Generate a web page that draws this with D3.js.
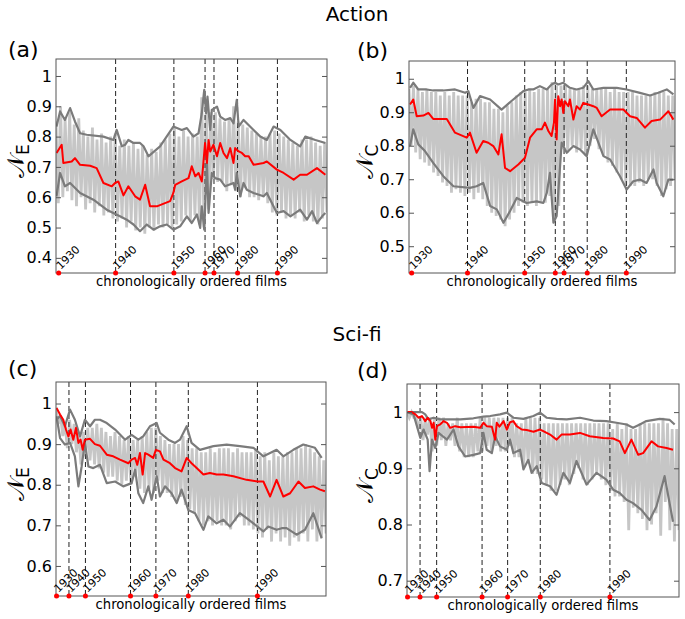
<!DOCTYPE html>
<html>
<head>
<meta charset="utf-8">
<script src="https://cdnjs.cloudflare.com/ajax/libs/d3/7.8.5/d3.min.js"></script>
<style>
body { margin: 0; background: #fff; }
svg { display: block; }
text { font-family: "DejaVu Sans", sans-serif; }
</style>
</head>
<body>
<script>
// year labels along the chronologically ordered films
var yearLabels = ["1930", "1940", "1950", "1960", "1970", "1980", "1990"];
// film index (0..100) where each decade starts
var actionYears = [1, 22, 43.5, 55, 58.3, 67, 81.7];
var scifiYears = [0.2, 4.8, 10.9, 27.6, 37, 49, 74.6];

// --- (a) Action, N_E : [film index, value]
var aMean = [[0.2,.746],[2.1,.773],[2.7,.713],[5.8,.718],[7,.729],[8.9,.707],[12.6,.704],[15,.696],[17.5,.647],[20.6,.636],[21.8,.647],[23,.652],[24.9,.606],[26.7,.636],[29.2,.603],[31,.592],[32.9,.641],[34.7,.57],[37.2,.57],[42.1,.587],[43.3,.614],[44,.641],[46.4,.652],[48.9,.663],[50.1,.702],[51.4,.669],[52.6,.68],[53.8,.652],[55,.779],[55.7,.713],[56.3,.789],[56.9,.751],[58.1,.773],[59.4,.735],[60.6,.779],[61.8,.746],[63.1,.729],[64.3,.762],[65.5,.713],[66.1,.762],[67.4,.751],[68.6,.746],[69.8,.735],[71.1,.735],[72.9,.707],[76.6,.713],[77.8,.718],[81.5,.691],[84,.68],[87.7,.658],[90.1,.674],[92.6,.674],[96.3,.696],[99.4,.674]];
var aUpper = [[0.2,.833],[1.5,.883],[3.3,.855],[5.2,.894],[7,.85],[8.9,.811],[11.3,.806],[17.5,.8],[21.2,.789],[22.4,.822],[24.3,.768],[25.5,.773],[26.7,.789],[28.6,.779],[31,.779],[32.3,.768],[34.1,.735],[38.4,.768],[43.3,.833],[46.4,.822],[48.3,.828],[50.7,.8],[52.6,.811],[53.8,.877],[54.7,.954],[55.4,.877],[55.9,.932],[56.9,.822],[57.5,.888],[59.4,.899],[60.6,.866],[62.4,.855],[64.3,.861],[65.5,.844],[66.7,.921],[67.4,.833],[69.2,.855],[70.4,.844],[72.9,.822],[75.4,.8],[77.8,.789],[80.3,.833],[82.8,.822],[86.5,.789],[90.1,.768],[92,.8],[95.7,.789],[99.4,.779]];
var aLower = [[0.2,.603],[1.5,.68],[3.3,.636],[5.2,.647],[8.9,.614],[13.8,.592],[18.7,.559],[23.6,.537],[26.1,.526],[28.6,.51],[31,.488],[33.5,.51],[36,.493],[38.4,.504],[40.9,.51],[43.3,.493],[45.8,.504],[48.3,.537],[50.1,.515],[52,.543],[53.2,.499],[53.8,.57],[54.7,.493],[55.7,.713],[56.3,.548],[57.5,.68],[58.7,.663],[60.6,.658],[62.4,.636],[65.5,.647],[66.1,.625],[66.7,.68],[68,.603],[69.2,.647],[70.4,.625],[72.9,.614],[76.6,.603],[77.8,.614],[81.5,.548],[84,.554],[86.5,.537],[90.1,.559],[92.6,.526],[94.5,.554],[96.3,.515],[98.2,.537],[99.4,.548]];
var aFilms = [.85,.58,.90,.60,.86,.62,.88,.59,.84,.57,.86,.60,.82,.56,.80,.58,.83,.55,.79,.57,.81,.54,.78,.55,.80,.53,.81,.52,.77,.53,.79,.50,.77,.52,.78,.49,.76,.50,.77,.48,.74,.50,.76,.49,.75,.51,.78,.50,.79,.51,.81,.50,.83,.51,.80,.52,.82,.54,.80,.52,.81,.54,.80,.51,.93,.50,.90,.56,.88,.66,.88,.65,.86,.65,.85,.62,.86,.64,.90,.62,.85,.60,.84,.63,.83,.60,.82,.60,.81,.59,.80,.60,.80,.58,.81,.55,.82,.54,.81,.55,.80,.53,.79,.54,.78,.53,.77,.55,.79,.52,.79,.54,.80,.52,.78,.51,.77,.53,.78,.55];

// --- (b) Action, N_C
var bMean = [[0.4,.923],[1.6,.938],[2.9,.888],[5.4,.89],[7.3,.898],[9.1,.88],[14.2,.88],[17.3,.839],[21.7,.824],[22.9,.839],[25.4,.779],[27.9,.814],[29.8,.809],[31.7,.799],[33.6,.774],[34.8,.834],[36.1,.734],[38,.724],[41.1,.744],[43.6,.764],[45.5,.824],[48,.849],[49.9,.849],[51.1,.869],[52.4,.844],[53.6,.829],[54.5,.869],[54.9,.938],[55.5,.819],[56.1,.948],[56.8,.918],[57.4,.938],[58,.898],[58.6,.933],[59.9,.918],[60.5,.938],[61.8,.878],[63,.918],[64.3,.908],[65.5,.928],[67.4,.923],[69.3,.918],[70.6,.913],[72.4,.888],[75.6,.908],[80.6,.908],[83.1,.888],[85.6,.883],[88.7,.854],[91.2,.874],[94.4,.878],[97.5,.903],[99.4,.878]];
var bUpper = [[0.4,.973],[1.6,.988],[3.5,.968],[6.6,.968],[9.1,.965],[12.9,.965],[17.3,.968],[21.1,.958],[22.3,.963],[24.2,.913],[26.7,.948],[30.5,.938],[34.8,.908],[39.2,.938],[43,.963],[44.9,.968],[46.7,.968],[49.2,.978],[51.8,.968],[53.6,.983],[54.9,.988],[56.1,.983],[58,.988],[60.5,.973],[63,.968],[65.5,.973],[67.4,.993],[69.3,.968],[73.1,.973],[78.1,.973],[81.8,.968],[86.8,.958],[90.6,.95],[93.7,.958],[96.9,.968],[99.4,.953]];
var bLower = [[0.4,.799],[1.6,.849],[3.5,.804],[6,.784],[9.1,.749],[12.9,.709],[16.7,.679],[22.9,.674],[25.4,.679],[27.9,.689],[30.5,.62],[33,.61],[35.5,.57],[38,.605],[40.5,.644],[44.2,.629],[48,.634],[50.5,.629],[51.8,.659],[53,.719],[54.3,.57],[55.5,.59],[57.4,.809],[59.3,.779],[61.8,.799],[64.3,.789],[66.8,.769],[69.3,.849],[71.2,.809],[73.1,.769],[75.6,.759],[79.3,.709],[81.8,.669],[84.3,.694],[86.8,.699],[89.3,.689],[91.9,.729],[93.1,.689],[95.6,.649],[97.5,.699],[99.4,.699]];
var bFilms = [.97,.80,.98,.78,.97,.76,.96,.75,.97,.74,.96,.72,.96,.71,.95,.69,.96,.68,.95,.66,.96,.67,.95,.66,.95,.65,.95,.66,.93,.64,.94,.66,.94,.64,.93,.62,.93,.60,.91,.59,.91,.58,.90,.56,.92,.58,.93,.60,.95,.62,.96,.63,.96,.62,.97,.63,.96,.62,.97,.63,.97,.63,.97,.65,.99,.57,.98,.62,.98,.79,.98,.78,.97,.80,.97,.78,.97,.79,.98,.77,.98,.80,.97,.82,.97,.79,.97,.77,.97,.75,.96,.74,.97,.72,.96,.70,.96,.68,.96,.68,.96,.68,.95,.69,.95,.68,.95,.70,.95,.70,.96,.68,.96,.65,.96,.67,.95,.68,.95,.70];

// --- (c) Sci-fi, N_E
var cMean = [[0.2,.989],[1.5,.973],[2.7,.96],[3.7,.936],[4.6,.919],[5.4,.936],[6.4,.911],[7.4,.94],[8.3,.903],[9.1,.911],[9.9,.886],[10.7,.911],[12.6,.913],[14.4,.9],[16.3,.896],[18.8,.874],[21.2,.87],[23.7,.862],[26.8,.853],[28,.862],[29.3,.866],[30.1,.849],[31.1,.878],[32.1,.825],[33,.878],[34.2,.874],[36,.866],[37,.886],[38.5,.882],[39.8,.862],[42.2,.853],[44.1,.841],[46.5,.833],[48.4,.866],[50.2,.853],[52.1,.841],[54.6,.825],[57,.829],[59.5,.825],[62,.825],[65.7,.821],[70.6,.812],[74.9,.808],[76.8,.808],[79.3,.771],[81.7,.812],[84.2,.771],[86.7,.779],[89.8,.808],[92.2,.792],[95.3,.796],[97.8,.788],[99.6,.784]];
var cUpper = [[0.2,.96],[1.5,.969],[3.3,.944],[5.2,.985],[7,.96],[8.9,.919],[10.7,.96],[12.6,.944],[14.4,.96],[16.3,.96],[18.8,.952],[21.9,.936],[25.6,.911],[28,.923],[30.5,.911],[32.3,.919],[34.8,.944],[37.3,.952],[38.5,.928],[41.6,.911],[44.1,.903],[45.9,.911],[48.4,.944],[50.2,.903],[53.3,.886],[58.3,.895],[63.2,.899],[68.1,.895],[73.1,.891],[76.8,.87],[79.3,.878],[81.7,.886],[84.2,.87],[87.9,.886],[91.6,.899],[95.9,.891],[98.4,.866]];
var cLower = [[0.2,.969],[1.5,.915],[3.3,.899],[5.2,.903],[7,.87],[8.3,.796],[9.5,.845],[10.7,.903],[12,.845],[13.8,.841],[16.3,.849],[18.8,.804],[21.9,.808],[24.9,.796],[28,.804],[29.3,.837],[30.5,.779],[32.3,.755],[34.2,.796],[35.4,.763],[37.3,.821],[38.5,.771],[40.4,.796],[42.8,.779],[44.7,.755],[46.5,.788],[49,.738],[51.5,.73],[54.6,.689],[56.4,.722],[59.5,.705],[62,.714],[64.4,.697],[68.1,.73],[70.6,.718],[73.1,.705],[76.8,.685],[78.6,.697],[81.7,.689],[83.6,.693],[85.4,.693],[89.1,.677],[92.2,.689],[95.3,.73],[98.4,.668]];
var cFilms = [.99,.95,.97,.92,.95,.89,.96,.90,.95,.88,.93,.85,.93,.87,.94,.86,.94,.85,.95,.84,.94,.83,.93,.82,.92,.82,.93,.81,.92,.80,.91,.81,.92,.80,.91,.82,.91,.79,.92,.78,.93,.79,.94,.78,.94,.81,.92,.78,.91,.78,.90,.77,.90,.76,.90,.77,.92,.75,.91,.74,.89,.73,.89,.71,.88,.70,.88,.71,.89,.70,.88,.71,.89,.70,.89,.70,.89,.69,.88,.71,.89,.72,.88,.70,.88,.70,.88,.69,.89,.68,.87,.67,.88,.69,.86,.66,.88,.68,.87,.66,.87,.67,.88,.65,.88,.67,.89,.66,.89,.68,.90,.66,.89,.69,.88,.66,.87,.67,.86,.68];

// --- (d) Sci-fi, N_C
var dMean = [[0.2,1],[1.8,1],[3.1,.996],[4.3,.99],[5.5,.993],[6.7,.984],[7.6,.99],[8.6,.984],[9.2,.972],[9.8,.981],[10.4,.951],[11,.975],[12.2,.978],[13.4,.984],[14.7,.981],[15.9,.972],[17.7,.975],[19.6,.973],[24.4,.974],[26.9,.972],[28.1,.981],[29.3,.975],[31.2,.974],[32.4,.951],[33,.981],[34,.974],[35.5,.984],[36.7,.969],[37.9,.982],[39.1,.984],[40.3,.975],[42.2,.969],[44,.968],[46.5,.965],[48.9,.969],[50.1,.966],[52.6,.96],[55,.951],[56.8,.96],[59.9,.96],[63.6,.963],[67.2,.957],[72.1,.954],[75.8,.953],[78.2,.948],[80.1,.927],[82.5,.951],[85,.924],[86.8,.927],[89.9,.948],[92.3,.939],[95.4,.936],[97.8,.933]];
var dUpper = [[0.2,1],[2.4,1],[5.5,1],[6.7,.996],[7.9,.987],[9.8,.99],[12.2,.987],[15.9,.987],[19.6,.987],[24.4,.989],[28.1,.992],[30.6,.993],[34.2,.996],[36.7,.999],[39.1,.99],[42.8,.988],[46.5,.993],[48.9,.999],[51.3,.99],[55,.988],[58.7,.987],[63.6,.99],[68.5,.985],[73.3,.984],[77,.981],[80.7,.978],[83.1,.972],[85.6,.978],[88,.984],[92.9,.988],[96.6,.986],[98.4,.978]];
var dLower = [[0.2,1],[2.4,.996],[4.9,.954],[6.1,.969],[7.6,.951],[8.3,.895],[9.2,.951],[10.4,.936],[11.6,.963],[14.7,.951],[17.1,.969],[18.9,.939],[21.4,.921],[24.4,.924],[26.9,.927],[28.1,.963],[29.3,.933],[31.2,.927],[32.4,.957],[34.2,.939],[36.7,.933],[37.9,.951],[39.1,.927],[41.6,.933],[42.8,.898],[44.6,.915],[45.8,.892],[47.7,.904],[49.5,.874],[52.6,.868],[55,.853],[57.5,.892],[59.9,.874],[62.3,.913],[66,.871],[69.7,.892],[73.3,.88],[75.8,.862],[78.2,.856],[80.7,.844],[83.1,.838],[86.2,.826],[89.2,.808],[91.7,.832],[94.7,.886],[97.8,.805]];
var dFilms = [1,.99,1,.99,.99,.97,.99,.95,.99,.96,.99,.93,.99,.94,.99,.95,.99,.94,.98,.95,.98,.94,.99,.93,.98,.92,.98,.92,.98,.92,.98,.93,.99,.93,.99,.94,.99,.93,.99,.94,.99,.93,.99,.93,.99,.94,.99,.92,.98,.92,.98,.90,.99,.91,.99,.89,.99,.89,.99,.88,.98,.87,.98,.86,.98,.86,.98,.87,.98,.88,.98,.87,.98,.89,.98,.90,.98,.88,.98,.87,.98,.88,.98,.89,.98,.88,.98,.87,.98,.86,.97,.85,.98,.85,.97,.84,.98,.79,.97,.83,.97,.82,.98,.81,.98,.79,.98,.80,.98,.82,.98,.78,.99,.84,.98,.79,.97,.77,.97,.79];

var width = 685, height = 619;
var svg = d3.select("body").append("svg")
    .attr("width", width)
    .attr("height", height);

// section titles
svg.append("text").attr("x", 357).attr("y", 21).attr("text-anchor", "middle")
    .style("font-size", "20px").text("Action");
svg.append("text").attr("x", 357).attr("y", 341).attr("text-anchor", "middle")
    .style("font-size", "20px").text("Sci-fi");

var panels = [
    { tag: "a", sub: "E", left: 56, right: 327, top: 59, bottom: 273, yDomain: [0.35, 1.056],
      yTicks: [0.4, 0.5, 0.6, 0.7, 0.8, 0.9, 1], years: actionYears,
      mean: aMean, upper: aUpper, lower: aLower, films: aFilms, labelX: 8, labelY: 57 },
    { tag: "b", sub: "C", left: 409, right: 675, top: 61, bottom: 273, yDomain: [0.42, 1.053],
      yTicks: [0.5, 0.6, 0.7, 0.8, 0.9, 1], years: actionYears,
      mean: bMean, upper: bUpper, lower: bLower, films: bFilms, labelX: 357, labelY: 58 },
    { tag: "c", sub: "E", left: 56, right: 326, top: 382, bottom: 596, yDomain: [0.526, 1.053],
      yTicks: [0.6, 0.7, 0.8, 0.9, 1], years: scifiYears,
      mean: cMean, upper: cUpper, lower: cLower, films: cFilms, labelX: 8, labelY: 376 },
    { tag: "d", sub: "C", left: 407, right: 679, top: 384, bottom: 597, yDomain: [0.671, 1.05],
      yTicks: [0.7, 0.8, 0.9, 1], years: scifiYears,
      mean: dMean, upper: dUpper, lower: dLower, films: dFilms, labelX: 357, labelY: 378 }
];

panels.forEach(drawPanel);

function drawPanel(p) {
    var x = d3.scaleLinear().domain([0, 100]).range([p.left, p.right]);
    var y = d3.scaleLinear().domain(p.yDomain).range([p.bottom, p.top]);

    var clipId = "clip-" + p.tag;
    svg.append("clipPath").attr("id", clipId)
        .append("rect")
        .attr("x", p.left).attr("y", p.top)
        .attr("width", p.right - p.left).attr("height", p.bottom - p.top);

    var plot = svg.append("g").attr("clip-path", "url(#" + clipId + ")");

    var line = d3.line()
        .x(function (d) { return x(d[0]); })
        .y(function (d) { return y(d[1]); });

    // individual films
    var n = p.films.length;
    var films = p.films.map(function (v, i) { return [i * 100 / (n - 1), v]; });
    plot.append("path").datum(films)
        .attr("d", line)
        .attr("fill", "none")
        .attr("stroke", "#c6c6c6")
        .attr("stroke-width", 2.8);

    // decade separators
    plot.selectAll(".sep")
        .data(p.years.slice(1))
        .enter().append("line")
        .attr("x1", function (d) { return x(d); })
        .attr("x2", function (d) { return x(d); })
        .attr("y1", p.top).attr("y2", p.bottom)
        .attr("stroke", "#222")
        .attr("stroke-width", 1)
        .attr("stroke-dasharray", "5,3");

    [p.upper, p.lower].forEach(function (s) {
        plot.append("path").datum(s)
            .attr("d", line)
            .attr("fill", "none")
            .attr("stroke", "#7b7b7b")
            .attr("stroke-width", 2.2)
            .attr("stroke-linejoin", "round");
    });

    plot.append("path").datum(p.mean)
        .attr("d", line)
        .attr("fill", "none")
        .attr("stroke", "#ff0000")
        .attr("stroke-width", 2)
        .attr("stroke-linejoin", "round");

    // frame
    svg.append("rect")
        .attr("x", p.left).attr("y", p.top)
        .attr("width", p.right - p.left).attr("height", p.bottom - p.top)
        .attr("fill", "none")
        .attr("stroke", "#555")
        .attr("stroke-width", 1);

    // y axes, ticks pointing inwards
    var fmt = function (d) { return String(+d.toFixed(2)); };
    var yl = svg.append("g")
        .attr("transform", "translate(" + p.left + ",0)")
        .call(d3.axisLeft(y).tickValues(p.yTicks).tickFormat(fmt)
            .tickSizeInner(-5).tickSizeOuter(0).tickPadding(4));
    yl.select(".domain").remove();
    yl.selectAll("line").attr("stroke", "#555");
    yl.selectAll("text").style("font-size", "16px").attr("fill", "#000")
        .style("font-family", "'DejaVu Sans', sans-serif");

    var yr = svg.append("g")
        .attr("transform", "translate(" + p.right + ",0)")
        .call(d3.axisRight(y).tickValues(p.yTicks).tickFormat("")
            .tickSizeInner(-5).tickSizeOuter(0));
    yr.select(".domain").remove();
    yr.selectAll("line").attr("stroke", "#555");

    // decade markers on the bottom edge
    svg.selectAll(".dot-" + p.tag)
        .data(p.years)
        .enter().append("circle")
        .attr("cx", function (d) { return x(d); })
        .attr("cy", p.bottom)
        .attr("r", 2.5)
        .attr("fill", "#ff0000");

    svg.selectAll(".yr-" + p.tag)
        .data(p.years)
        .enter().append("text")
        .attr("transform", function (d) {
            return "translate(" + (x(d) + 2) + "," + (p.bottom - 3) + ") rotate(-45)";
        })
        .style("font-size", "11px")
        .text(function (d, i) { return yearLabels[i]; });

    svg.append("text")
        .attr("x", (p.left + p.right) / 2)
        .attr("y", p.bottom + 13)
        .attr("text-anchor", "middle")
        .style("font-size", "13.2px")
        .text("chronologically ordered films");

    // y label
    var lab = svg.append("text")
        .attr("transform", "translate(" + (p.labelX + 16) + "," + ((p.top + p.bottom) / 2 - 5) + ") rotate(-90)")
        .attr("text-anchor", "middle")
        .style("font-size", "24px");
    lab.append("tspan").text("\uD835\uDCA9");
    lab.append("tspan").attr("dy", 5).style("font-size", "17px").text(p.sub);

    svg.append("text")
        .attr("x", p.labelX).attr("y", p.labelY)
        .style("font-size", "22px")
        .text("(" + p.tag + ")");
}
</script>
</body>
</html>
